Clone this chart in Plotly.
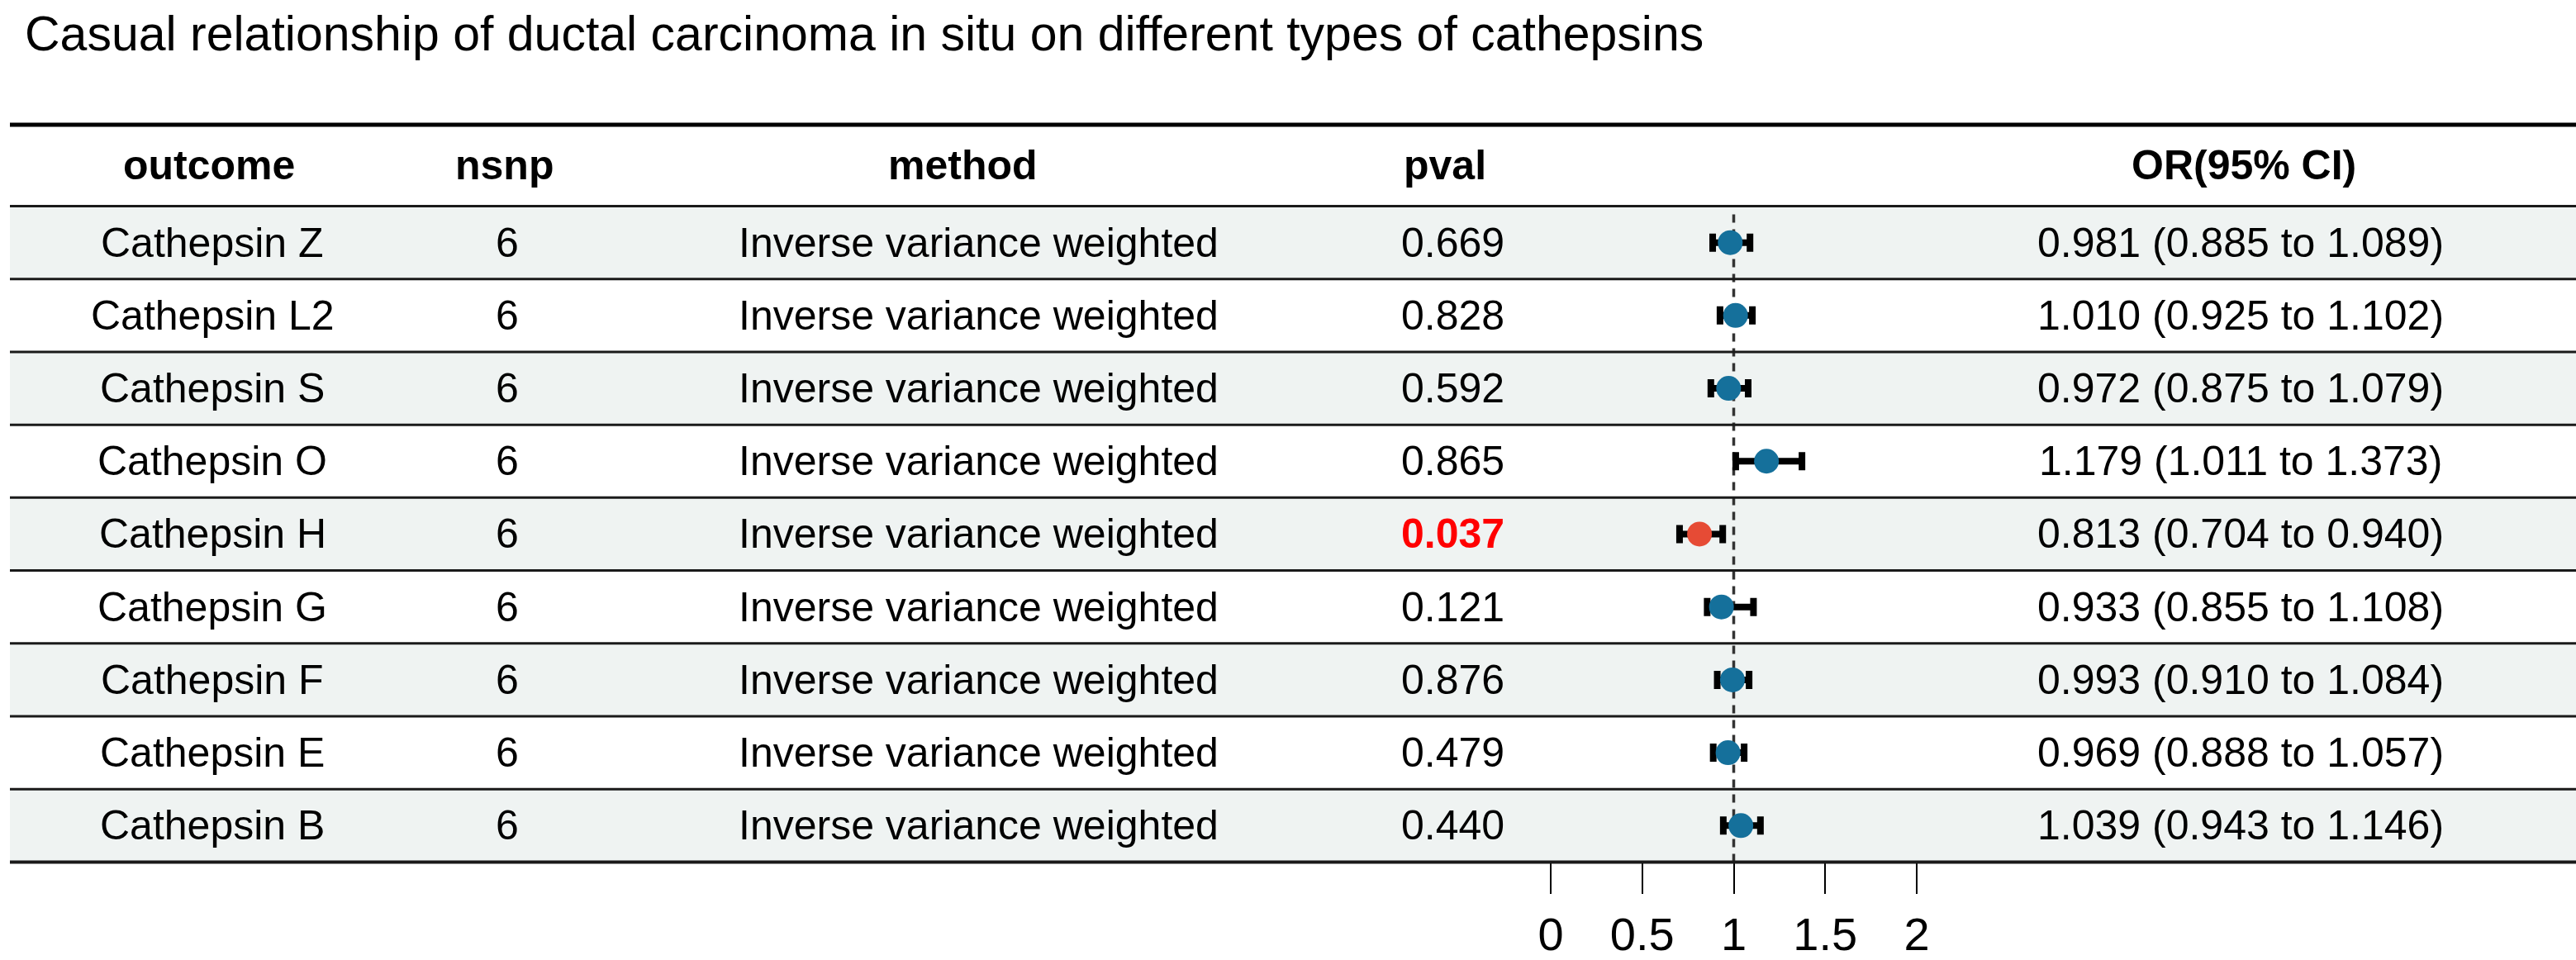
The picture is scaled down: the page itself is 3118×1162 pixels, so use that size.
import plotly.graph_objects as go

# data
outcomes = ["Cathepsin Z", "Cathepsin L2", "Cathepsin S", "Cathepsin O", "Cathepsin H",
            "Cathepsin G", "Cathepsin F", "Cathepsin E", "Cathepsin B"]
nsnp = [6, 6, 6, 6, 6, 6, 6, 6, 6]
methods = ["Inverse variance weighted"] * 9
pvals = [0.669, 0.828, 0.592, 0.865, 0.037, 0.121, 0.876, 0.479, 0.440]
or_vals = [0.981, 1.010, 0.972, 1.179, 0.813, 0.933, 0.993, 0.969, 1.039]
or_low = [0.885, 0.925, 0.875, 1.011, 0.704, 0.855, 0.910, 0.888, 0.943]
or_high = [1.089, 1.102, 1.079, 1.373, 0.940, 1.108, 1.084, 1.057, 1.146]
headers = ["outcome", "nsnp", "method", "pval", "OR(95% CI)"]
tick_vals = [0, 0.5, 1, 1.5, 2]
tick_text = ["0", "0.5", "1", "1.5", "2"]
title = "Casual relationship of ductal carcinoma in situ on different types of cathepsins"

W, H = 3118, 1162
FONT = "Liberation Sans, Arial, sans-serif"
BLUE = "#15709b"
RED = "#E64B35"
SHADE = "#eff3f2"

# layout in pixels
top_line = 153
head_bot = 253
tab_bot = 1058
left = 12
n = len(outcomes)
row_h = (tab_bot - head_bot) / n
head_x = [253, 610, 1165, 1749, 2716]
cell_x = [257, 614, 1184, 1759, 2712]
x_px0, x_px1 = 1800, 2400
zero_px, per_unit = 1877, 221.5


def px(x):
    return x / W


def py(y):
    return 1 - y / H


fig = go.Figure()

ys = list(range(1, n + 1))
colors = [RED if p < 0.05 else BLUE for p in pvals]
fig.add_trace(go.Scatter(
    x=or_vals, y=ys, mode="markers",
    marker=dict(size=30, color=colors, line=dict(width=0)),
    error_x=dict(type="data", symmetric=False,
                 array=[h - o for h, o in zip(or_high, or_vals)],
                 arrayminus=[o - l for o, l in zip(or_vals, or_low)],
                 color="black", thickness=8, width=11),
    hoverinfo="skip", showlegend=False,
))

shapes = []
# shaded rows
for i in range(n):
    if i % 2 == 0:
        y0 = head_bot + i * row_h
        shapes.append(dict(type="rect", xref="paper", yref="paper", x0=px(left), x1=1,
                           y0=py(y0), y1=py(y0 + row_h), fillcolor=SHADE,
                           line=dict(width=0), layer="below"))
# reference line at OR = 1
shapes.append(dict(type="line", xref="x", yref="paper", x0=1, x1=1,
                   y0=py(263), y1=py(tab_bot), layer="below",
                   line=dict(color="#333333", width=3.5, dash="10px,8px")))
# table rules
shapes.append(dict(type="line", xref="paper", yref="paper", x0=px(left), x1=1,
                   y0=py(top_line), y1=py(top_line), line=dict(color="black", width=5)))
for i in range(n + 1):
    yy = head_bot + i * row_h
    shapes.append(dict(type="line", xref="paper", yref="paper", x0=px(left), x1=1,
                       y0=py(yy), y1=py(yy),
                       line=dict(color="#1a1a1a", width=4 if i == n else 3)))

ann = [dict(text=title, xref="paper", yref="paper", x=px(28), y=py(42),
            xanchor="left", yanchor="middle", showarrow=False,
            font=dict(family=FONT, size=59, color="black"))]
head_y = (top_line + head_bot) / 2
for hx, h in zip(head_x, headers):
    ann.append(dict(text=h, xref="paper", yref="paper", x=px(hx), y=py(head_y),
                    xanchor="center", yanchor="middle", showarrow=False,
                    font=dict(family=FONT, size=50, color="black", weight="bold")))
for i in range(n):
    yc = py(head_bot + (i + 0.5) * row_h)
    or_txt = f"{or_vals[i]:.3f} ({or_low[i]:.3f} to {or_high[i]:.3f})"
    cells = [outcomes[i], str(nsnp[i]), methods[i], f"{pvals[i]:.3f}", or_txt]
    for j, (cx, t) in enumerate(zip(cell_x, cells)):
        f = dict(family=FONT, size=50, color="black")
        if j == 3 and pvals[i] < 0.05:
            f = dict(family=FONT, size=50, color="#ff0000", weight="bold")
        ann.append(dict(text=t, xref="paper", yref="paper", x=px(cx), y=yc,
                        xanchor="center", yanchor="middle", showarrow=False, font=f))

fig.update_layout(
    width=W, height=H, margin=dict(l=0, r=0, t=0, b=0),
    paper_bgcolor="white", plot_bgcolor="rgba(0,0,0,0)",
    shapes=shapes, annotations=ann, showlegend=False,
    xaxis=dict(domain=[px(x_px0), px(x_px1)],
               range=[(x_px0 - zero_px) / per_unit, (x_px1 - zero_px) / per_unit],
               tickvals=tick_vals, ticktext=tick_text, ticks="outside", ticklen=38,
               tickwidth=2, tickcolor="black", showgrid=False, zeroline=False,
               showline=False,
               tickfont=dict(family=FONT, size=56, color="black")),
    yaxis=dict(domain=[py(tab_bot), py(head_bot)], range=[n + 0.5, 0.5],
               visible=False, showgrid=False, zeroline=False),
)

# page body margin would shift the figure by 8px, so drop it
fig.write_html("out.html", config={"displayModeBar": False},
               post_script="document.body.style.margin='0px';document.body.style.overflow='hidden';")
